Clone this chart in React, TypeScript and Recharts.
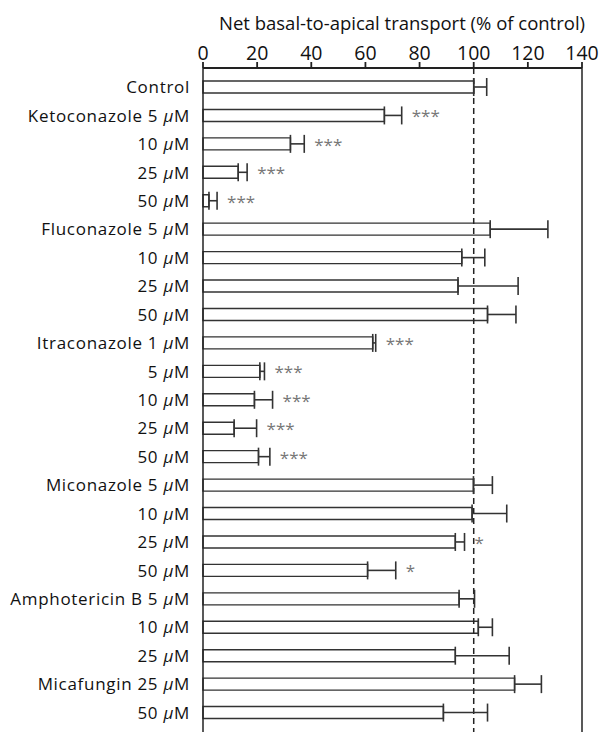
import React from 'react'
import {
    Bar,
    BarChart,
    ErrorBar,
    LabelList,
    ReferenceLine,
    XAxis,
    YAxis,
} from "recharts";

const labels = [
    "Control",
    "Ketoconazole 5 μM", "10 μM", "25 μM", "50 μM",
    "Fluconazole 5 μM", "10 μM", "25 μM", "50 μM",
    "Itraconazole 1 μM", "5 μM", "10 μM", "25 μM", "50 μM",
    "Miconazole 5 μM", "10 μM", "25 μM", "50 μM",
    "Amphotericin B 5 μM", "10 μM", "25 μM",
    "Micafungin 25 μM", "50 μM",
];

const transport = [
    100,
    67.0, 32.3, 13.0, 2.2,
    106.1, 95.6, 94.2, 105.1,
    62.7, 21.0, 19.0, 11.5, 20.5,
    99.9, 99.4, 93.2, 60.8,
    94.6, 101.7, 93.2,
    115.1, 88.8,
];

const errorUp = [
    4.8,
    6.4, 5.1, 3.3, 3.0,
    21.3, 8.5, 22.2, 10.5,
    1.1, 1.7, 6.7, 8.3, 4.2,
    7.0, 12.8, 3.4, 10.4,
    5.7, 5.2, 19.9,
    9.9, 16.3,
];

const significance = [
    "",
    "***", "***", "***", "***",
    "", "", "", "",
    "***", "***", "***", "***", "***",
    "", "", "*", "*",
    "", "", "",
    "", "",
];

const xTicks = [0, 20, 40, 60, 80, 100, 120, 140];

const data = labels.map((_, i) => ({
    id: String(i),
    value: transport[i],
    err: [0, errorUp[i]],
    sig: significance[i],
}));

const FONT = "'Open Sans', sans-serif";

function CategoryTick(props: any) {
    const { y, payload } = props;
    const label = labels[Number(payload.value)];
    const parts = label.split("μ");
    return (
        <text x={190} y={y} dy={6} textAnchor="end" fontFamily={FONT} fontSize={17} letterSpacing={0.7} fill="#111">
            {parts.length > 1 ? (
                <>
                    <tspan>{parts[0]}</tspan>
                    <tspan fontStyle="italic">μ</tspan>
                    <tspan>{parts[1]}</tspan>
                </>
            ) : label}
        </text>
    );
}

function SigLabel(props: any) {
    const { x, y, width, height, index } = props;
    const s = significance[index];
    if (!s) return null;
    const v = transport[index];
    const end = x + width * (1 + errorUp[index] / v);
    return (
        <text x={end + 10} y={y + height / 2 + 7} fontFamily={FONT} fontSize={17} fill="#777">
            {s}
        </text>
    );
}

function App() {
    return (
        <div style={{ position: 'absolute', left: 0, top: 0, background: '#fff' }}>
            <BarChart
                width={599}
                height={733}
                data={data}
                layout="vertical"
                margin={{ top: 0, right: 17, bottom: 1, left: 0 }}
            >
                <XAxis
                    type="number"
                    orientation="top"
                    domain={[0, 140]}
                    ticks={xTicks}
                    height={68}
                    tickSize={6}
                    tickMargin={2}
                    stroke="#222"
                    strokeWidth={1.8}
                    tick={{ fontFamily: FONT, fontSize: 19.5, fill: '#111' }}
                    label={{
                        content: () => (
                            <text x={402} y={30} textAnchor="middle" fontFamily={FONT} fontSize={18.5} fill="#111">
                                Net basal-to-apical transport (% of control)
                            </text>
                        ),
                    }}
                />
                <YAxis
                    type="category"
                    dataKey="id"
                    width={203}
                    padding={{ top: 5, bottom: 5 }}
                    tickLine={false}
                    stroke="#222"
                    strokeWidth={1.5}
                    interval={0}
                    tick={<CategoryTick />}
                />
                <ReferenceLine x={100} stroke="#222" strokeWidth={1.5} strokeDasharray="6 4" />
                <ReferenceLine x={140} stroke="#222" strokeWidth={1.5} />
                <Bar
                    dataKey="value"
                    fill="#fff"
                    stroke="#333"
                    strokeWidth={1.4}
                    barSize={12}
                    isAnimationActive={false}
                >
                    <ErrorBar dataKey="err" direction="x" width={9} stroke="#333" strokeWidth={1.6} />
                    <LabelList dataKey="sig" content={<SigLabel />} />
                </Bar>
            </BarChart>
        </div>
    )
}

export default App
